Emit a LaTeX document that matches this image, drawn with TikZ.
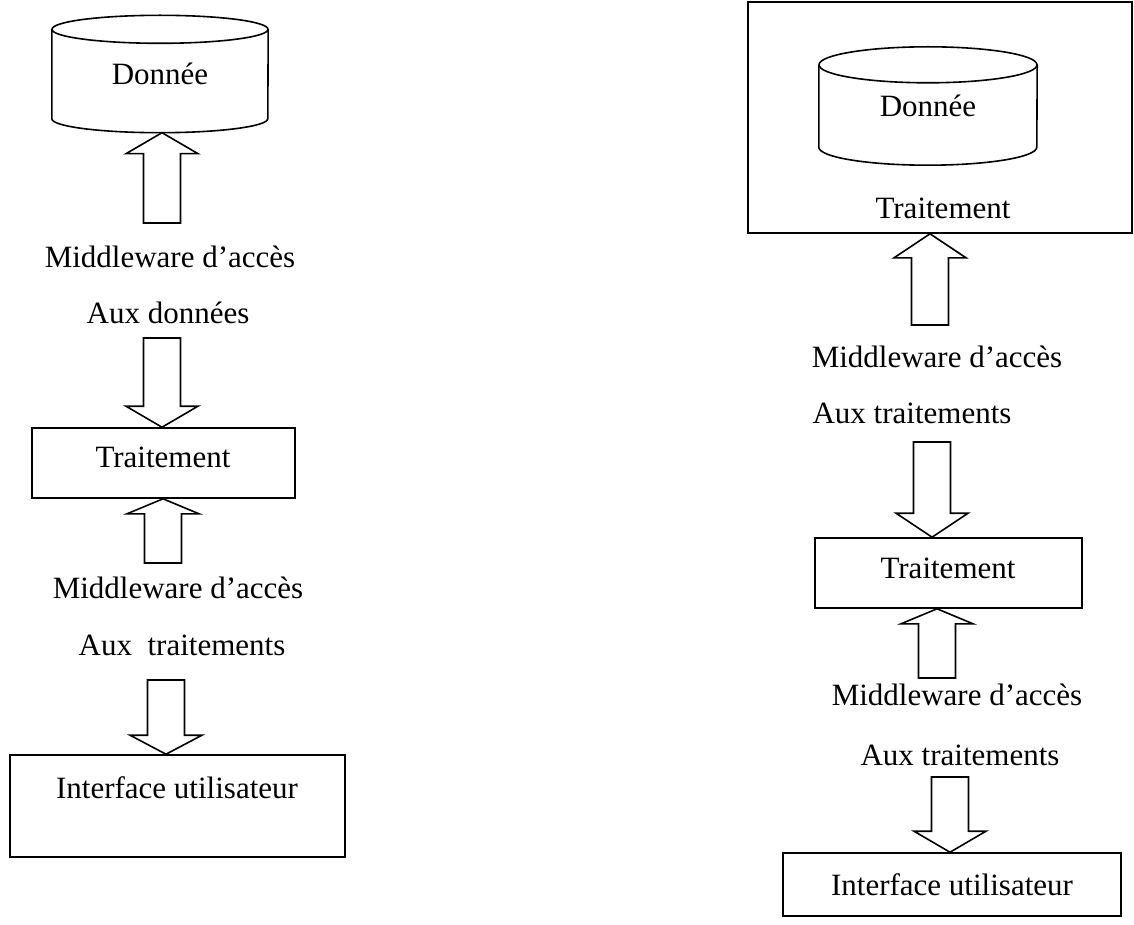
\documentclass[tikz,border=0pt]{standalone}
\usepackage{fontspec}
\setmainfont{Liberation Serif}
\usetikzlibrary{calc}

% hollow block arrow from a tail coordinate to a tip coordinate, #3 = head length
\newcommand\blockarrow[3]{%
  \draw[hollow] let \p1=(#1), \p2=(#2), \p3=($(#2)!#3!(#1)$) in
    (\x2-18.5pt,\y1) -- (\x2-18.5pt,\y3) -- (\x2-36pt,\y3) -- (\x2,\y2)
    -- (\x2+36pt,\y3) -- (\x2+18.5pt,\y3) -- (\x2+18.5pt,\y1) -- cycle;}

% database cylinder drawn around a node: #1 node, #2 half width, #3 ellipse y radius
\newcommand\drawcyl[3]{%
  \draw[ln] ([yshift=-#3pt]#1.north) ellipse [x radius=#2pt, y radius=#3pt];
  \draw[ln] ([yshift=-#3pt]#1.north west) -- ([yshift=#3pt]#1.south west)
    arc [start angle=180, end angle=360, x radius=#2pt, y radius=#3pt]
    -- ([yshift=-#3pt]#1.north east);}

\begin{document}
\begin{tikzpicture}[x=1pt,y=-1pt,
  ln/.style={line width=1.6pt, black},
  box/.style={draw, ln, rectangle, inner sep=0pt},
  cyl/.style={inner sep=0pt},
  lbl/.style={font=\fontsize{31}{37}\selectfont, inner sep=0pt},
  hollow/.style={ln, fill=white, line join=miter}]
\useasboundingbox (0,0) rectangle (1134,925);

% ---------- left stack ----------
\node[cyl, lbl, minimum width=216pt, minimum height=117pt] (db1) at (160,74) {Donnée};
\drawcyl{db1}{108}{14}

\node[lbl] (m1) at (170,257) {Middleware d’accès};
\node[lbl] (a1) at (168,313) {Aux données};

\node[box, minimum width=263pt, minimum height=70pt] (tr1) at (163.5,463) {};
\node[lbl] (tr1t) at (163,457) {Traitement};

\node[lbl] (m2) at (178,588) {Middleware d’accès};
\node[lbl] (a2) at (182,645) {Aux~ traitements};

\node[box, minimum width=335pt, minimum height=102pt] (ui1) at (177.5,806) {};
\node[lbl] (ui1t) at (177,788) {Interface utilisateur};

\coordinate (t1) at (162,223);  \coordinate (h1) at (t1 |- db1.south);
\coordinate (t2) at (162,338);  \coordinate (h2) at (t2 |- tr1.north);
\coordinate (t3) at (163,563);  \coordinate (h3) at (t3 |- tr1.south);
\coordinate (t4) at (166,680);  \coordinate (h4) at (t4 |- ui1.north);
\blockarrow{t1}{h1}{21pt}
\blockarrow{t2}{h2}{21pt}
\blockarrow{t3}{h3}{15pt}
\blockarrow{t4}{h4}{19pt}

% ---------- right stack ----------
\node[box, minimum width=384pt, minimum height=231pt] (outer) at (940,117.5) {};
\node[cyl, lbl, minimum width=218pt, minimum height=118pt] (db2) at (928,106) {Donnée};
\drawcyl{db2}{109}{18}
\node[lbl] (outert) at (943,208) {Traitement};

\node[lbl] (m3) at (937,357) {Middleware d’accès};
\node[lbl] (a3) at (912,413) {Aux traitements};

\node[box, minimum width=267pt, minimum height=70pt] (tr2) at (948.5,573) {};
\node[lbl] (tr2t) at (948,568) {Traitement};

\node[lbl] (m4) at (957,695) {Middleware d’accès};
\node[lbl] (a4) at (960,755) {Aux traitements};

\node[box, minimum width=338pt, minimum height=63pt] (ui2) at (952,884.5) {};
\node[lbl] (ui2t) at (952,885) {Interface utilisateur};

\coordinate (t5) at (930,325);  \coordinate (h5) at (t5 |- outer.south);
\coordinate (t6) at (932,442);  \coordinate (h6) at (t6 |- tr2.north);
\coordinate (t7) at (937,678);  \coordinate (h7) at (t7 |- tr2.south);
\coordinate (t8) at (950,777);  \coordinate (h8) at (t8 |- ui2.north);
\blockarrow{t5}{h5}{24pt}
\blockarrow{t6}{h6}{24pt}
\blockarrow{t7}{h7}{15pt}
\blockarrow{t8}{h8}{21pt}
\end{tikzpicture}
\end{document}
